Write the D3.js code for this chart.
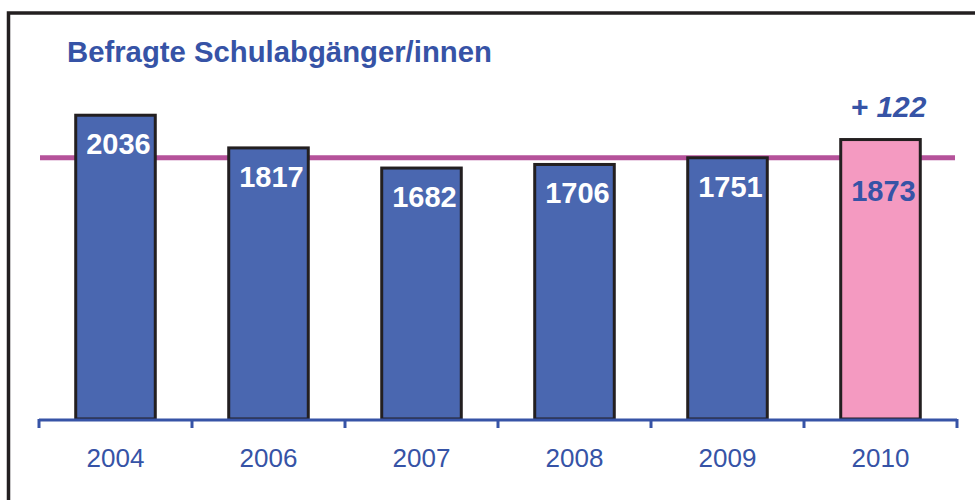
<!DOCTYPE html>
<html>
<head>
<meta charset="utf-8">
<script src="https://cdn.jsdelivr.net/npm/d3@7"></script>
<style>
  html, body { margin: 0; padding: 0; background: #fff; }
  svg { display: block; }
</style>
</head>
<body>
<svg id="chart" width="975" height="500"></svg>
<script>
// ---- data ----
const years = ["2004", "2006", "2007", "2008", "2009", "2010"];
const respondents = [2036, 1817, 1682, 1706, 1751, 1873];
const highlightYear = "2010";
const referenceYear = "2009";
const title = "Befragte Schulabgänger/innen";

// ---- setup ----
const W = 975, H = 500;
const svg = d3.select("#chart");
const blue = "#3653a6";
const barBlue = "#4a67b0";
const barPink = "#f49ac1";
const lineColor = "#b5529a";
const font = "Liberation Sans, Arial, Helvetica, sans-serif";

const x = d3.scaleBand().domain(years).range([39, 957]).paddingInner(0.48).paddingOuter(0.24);
const y = d3.scaleLinear().domain([0, 2500]).range([419, 46]);

const data = years.map((yr, i) => ({ year: yr, value: respondents[i] }));
const refValue = respondents[years.indexOf(referenceYear)];
const hiValue = respondents[years.indexOf(highlightYear)];

// frame
svg.append("rect")
  .attr("x", 8.5).attr("y", 13).attr("width", W + 20).attr("height", H + 20)
  .attr("fill", "none").attr("stroke", "#231f20").attr("stroke-width", 3.5);

// title
svg.append("text")
  .attr("x", 67).attr("y", 62)
  .attr("font-family", font).attr("font-weight", "bold").attr("font-size", 29.3)
  .attr("fill", blue)
  .text(title);

// reference line (behind bars)
svg.append("line")
  .attr("x1", 40).attr("x2", 955)
  .attr("y1", y(refValue)).attr("y2", y(refValue))
  .attr("stroke", lineColor).attr("stroke-width", 5);

// bars
svg.selectAll("rect.bar").data(data).join("rect")
  .attr("class", "bar")
  .attr("x", d => x(d.year))
  .attr("width", x.bandwidth())
  .attr("y", d => y(d.value))
  .attr("height", d => y(0) - y(d.value))
  .attr("fill", d => d.year === highlightYear ? barPink : barBlue)
  .attr("stroke", "#231f20").attr("stroke-width", 3);

// value labels
svg.selectAll("text.val").data(data).join("text")
  .attr("class", "val")
  .attr("x", d => x(d.year) + x.bandwidth() / 2 + 3)
  .attr("y", d => y(d.value) + (d.year === highlightYear ? 61 : 39))
  .attr("text-anchor", "middle")
  .attr("font-family", font).attr("font-weight", "bold").attr("font-size", 29)
  .attr("fill", d => d.year === highlightYear ? blue : "#ffffff")
  .text(d => d.value);

// difference annotation
svg.append("text")
  .attr("x", x(highlightYear) + x.bandwidth() / 2 + 8)
  .attr("y", y(hiValue) - 23)
  .attr("text-anchor", "middle")
  .attr("font-family", font).attr("font-weight", "bold").attr("font-style", "italic")
  .attr("font-size", 30)
  .attr("fill", blue)
  .text("+ " + (hiValue - refValue));

// x axis: labels via d3 axis, ticks at band boundaries
const axis = svg.append("g")
  .attr("transform", `translate(0,${y(0)})`)
  .call(d3.axisBottom(x).tickSize(0).tickPadding(30));
axis.select(".domain").remove();
axis.selectAll("text")
  .attr("font-family", font).attr("font-size", 26).attr("fill", blue);

const bounds = years.map(yr => x(yr) - x.step() * x.paddingInner() / 2);
bounds[0] = x.range()[0];
bounds.push(x.range()[1]);
svg.append("line")
  .attr("x1", bounds[0]).attr("x2", bounds[bounds.length - 1])
  .attr("y1", y(0) + 1).attr("y2", y(0) + 1)
  .attr("stroke", blue).attr("stroke-width", 3);
svg.selectAll("line.tick").data(bounds).join("line")
  .attr("class", "tick")
  .attr("x1", d => d).attr("x2", d => d)
  .attr("y1", y(0)).attr("y2", y(0) + 9)
  .attr("stroke", blue).attr("stroke-width", 3);
</script>
</body>
</html>
